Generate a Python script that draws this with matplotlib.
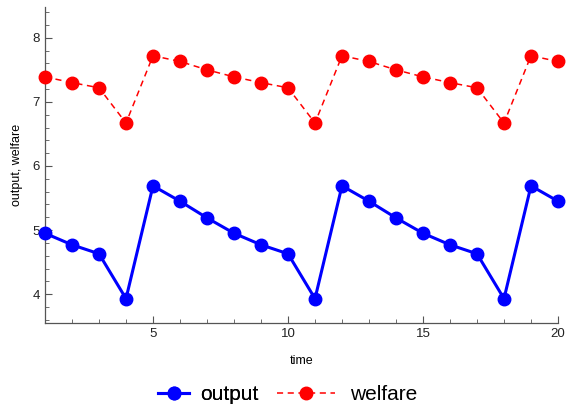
import matplotlib
matplotlib.use("Agg")
import matplotlib.pyplot as plt
from matplotlib.ticker import MultipleLocator

plt.rcParams['font.family'] = ['Liberation Sans', 'DejaVu Sans']

time = list(range(1, 21))
output = [4.95, 4.77, 4.63, 3.93, 5.69, 5.45, 5.19, 4.95, 4.77, 4.63,
          3.93, 5.69, 5.45, 5.19, 4.95, 4.77, 4.63, 3.93, 5.69, 5.45]
welfare = [7.39, 7.30, 7.22, 6.67, 7.72, 7.63, 7.50, 7.39, 7.30, 7.22,
           6.67, 7.72, 7.63, 7.50, 7.39, 7.30, 7.22, 6.67, 7.72, 7.63]

fig = plt.figure(figsize=(5.66, 4.08), dpi=100)
ax = fig.add_axes([45 / 566, 1 - 323 / 408, 513 / 566, 316 / 408])

h_out, = ax.plot(time, output, color='#0000ff', lw=2.2, marker='o', ms=9,
                 label='output', clip_on=False, zorder=3)
h_wel, = ax.plot(time, welfare, color='#ff0000', lw=1.1, ls=(0, (4, 3)), marker='o', ms=9,
                 label='welfare', clip_on=False, zorder=3)

ax.set_xlim(1, 20)
ax.set_ylim(3.55, 8.48)
ax.xaxis.set_major_locator(MultipleLocator(5))
ax.xaxis.set_minor_locator(MultipleLocator(1))
ax.yaxis.set_major_locator(MultipleLocator(1))
ax.yaxis.set_minor_locator(MultipleLocator(0.2))

for side in ('top', 'right'):
    ax.spines[side].set_visible(False)
for side in ('left', 'bottom'):
    ax.spines[side].set_color('#555555')
    ax.spines[side].set_linewidth(0.9)

ax.tick_params(which='both', direction='in', color='#555555', labelsize=9.5, labelcolor='#222222')
ax.tick_params(which='major', length=5, width=0.8)
ax.tick_params(which='minor', length=3, width=0.6)

ax.set_xlabel('time', fontsize=9, labelpad=11)
ax.set_ylabel('output, welfare', fontsize=9, labelpad=7)

# two single-entry legends so each handle gets its own length
leg_y = 1 - 395 / 408
leg1 = fig.legend(handles=[h_out], loc='center left', bbox_to_anchor=(158 / 566, leg_y),
                  frameon=False, fontsize=15, handlelength=1.5, handletextpad=0.5,
                  borderpad=0, borderaxespad=0)
fig.add_artist(leg1)
fig.legend(handles=[h_wel], loc='center left', bbox_to_anchor=(277 / 566, leg_y),
           frameon=False, fontsize=15, handlelength=2.8, handletextpad=0.7,
           borderpad=0, borderaxespad=0)

fig.savefig('out.png', dpi=100)
